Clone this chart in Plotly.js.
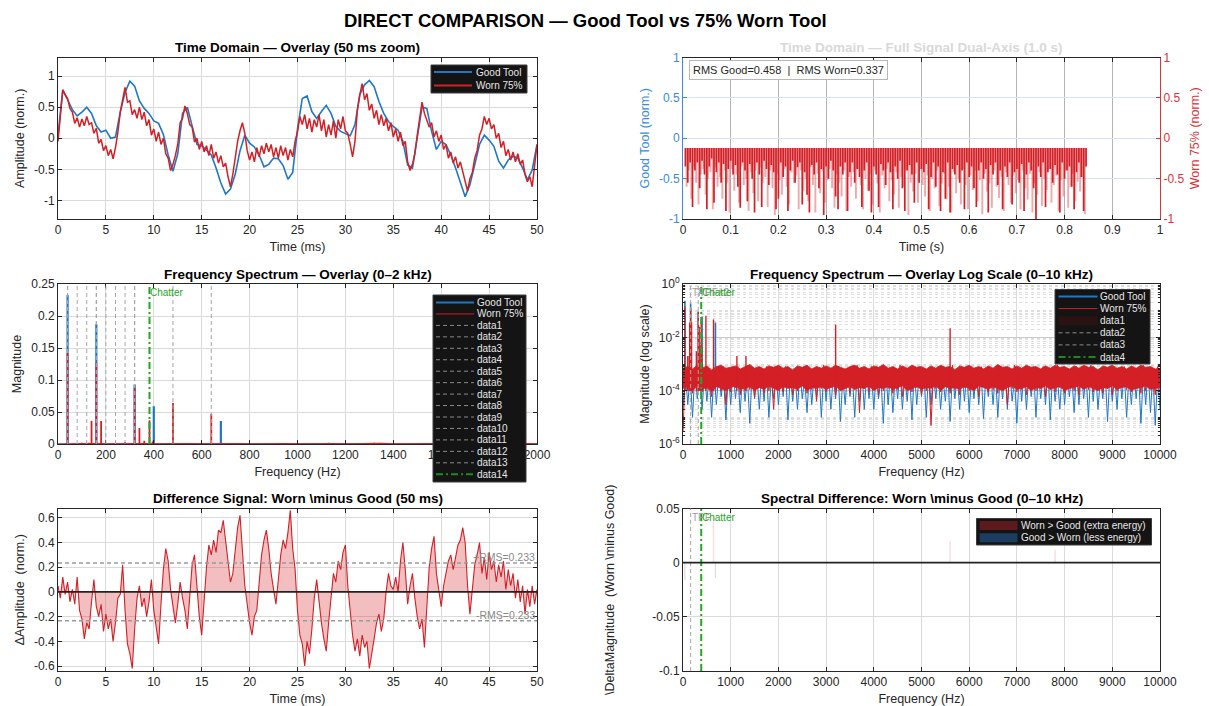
<!DOCTYPE html>
<html><head><meta charset="utf-8">
<script src="https://cdn.plot.ly/plotly-3.0.1.min.js"></script>
<style>html,body{margin:0;padding:0;background:#fff}#chart{width:1209px;height:706px}</style>
</head><body><div id="chart"></div>
<script>
// ---------------- DATA ----------------
// Time domain, 50 ms zoom (Good: every 0.5 ms, Worn: every 0.25 ms)
const timeGood = [
 0.05, 0.78, 0.62, 0.46, 0.36, 0.42, 0.50, 0.40, 0.20, 0.10,
 0.13, 0.00, 0.02, 0.42, 0.74, 0.92, 0.84, 0.60, 0.48, 0.40,
 0.28, 0.24, 0.06, -0.27, -0.53, -0.25, 0.40, 0.50, 0.20, -0.10,
 -0.12, -0.20, -0.27, -0.48, -0.72, -0.90, -0.82, -0.58, -0.20, 0.05,
 -0.08, -0.14, -0.27, -0.46, -0.42, -0.32, -0.33, -0.44, -0.66, -0.55,
 0.15, 0.64, 0.68, 0.43, 0.32, 0.43, 0.53, 0.40, 0.19, 0.11,
 0.08, 0.04, 0.22, 0.70, 0.86, 0.93, 0.83, 0.59, 0.40, 0.27,
 0.19, 0.13, -0.05, -0.43, -0.48, 0.05, 0.50, 0.48, 0.11, -0.18,
 -0.05, -0.10, -0.27, -0.48, -0.72, -0.94, -0.75, -0.43, -0.10, 0.05,
 -0.03, -0.13, -0.37, -0.48, -0.35, -0.29, -0.32, -0.48, -0.67, -0.51,
 -0.10];
const timeWorn = [
 -0.05, 0.35, 0.78, 0.70,   0.64, 0.48, 0.42, 0.24,   0.33, 0.18, 0.31, 0.20,
 0.35, 0.22, 0.25, 0.08,    0.16, -0.08, -0.02, -0.20, -0.12, -0.28, -0.18, -0.33,
 -0.15, 0.10, 0.42, 0.62,   0.82, 0.58, 0.60, 0.38,   0.46, 0.32, 0.50, 0.30,
 0.42, 0.20, 0.30, 0.05,    0.15, -0.05, 0.10, -0.10, 0.00, -0.25, -0.32, -0.52,
 -0.42, -0.28, -0.10, 0.25, 0.32, 0.52, 0.40, 0.22,   0.18, -0.06, 0.00, -0.18,
 -0.05, -0.22, -0.12, -0.28, -0.10, -0.32, -0.22, -0.40, -0.28, -0.46, -0.40, -0.62,
 -0.78, -0.58, -0.30, -0.05, 0.12, 0.25, 0.08, -0.20,  -0.35, -0.22, -0.38, -0.15,
 -0.30, -0.12, -0.25, -0.08, -0.22, -0.10, -0.30, -0.15, -0.32, -0.12, -0.28, -0.15,
 -0.35, -0.18, -0.30, -0.05, 0.10, 0.35, 0.22, 0.38,   0.15, 0.32, 0.10, 0.30,
 0.18, 0.38, 0.12, 0.30,    0.02, 0.22, 0.05, 0.28,   0.00, 0.30, 0.15, 0.35,
 0.12, 0.08, -0.10, -0.30,  -0.05, 0.45, 0.70, 0.88,  0.62, 0.72, 0.45, 0.55,
 0.32, 0.45, 0.22, 0.38,    0.20, 0.32, 0.12, 0.25,   0.02, 0.15, -0.05, 0.10,
 -0.12, -0.05, -0.38, -0.52, -0.42, -0.25, 0.05, 0.35, 0.58, 0.40, 0.30, 0.18,
 0.25, 0.02, 0.12, -0.05,   0.05, -0.18, -0.10, -0.32, -0.22, -0.40, -0.30, -0.48,
 -0.38, -0.55, -0.68, -0.85, -0.65, -0.55, -0.32, -0.20, 0.05, 0.15, 0.35, 0.22,
 0.32, 0.15, 0.22, 0.00,    0.08, -0.15, -0.05, -0.28, -0.18, -0.35, -0.22, -0.38,
 -0.25, -0.42, -0.35, -0.58, -0.70, -0.62, -0.78, -0.40,
 -0.10];
// Difference signal (Worn - Good), every 0.25 ms
const diffSig = [
 0.05, -0.05, 0.12, -0.02,  0.08, -0.08, 0.02, -0.10,  0.12, -0.15, -0.22, -0.38,
 -0.25, -0.30, -0.08, 0.10, -0.12, -0.20, -0.10, -0.32, -0.18, -0.30, -0.22, -0.40,
 -0.25, -0.05, -0.02, 0.22, -0.15, -0.42, -0.50, -0.62, -0.30, -0.05, 0.05, -0.12,
 -0.05, -0.20, -0.08, 0.10, -0.15, -0.30, -0.42, -0.10, 0.18, 0.35, 0.25, 0.02,
 -0.12, -0.25, -0.10, 0.08, -0.05, -0.15, -0.30, -0.05, 0.22, 0.30, 0.05, -0.20,
 -0.35, -0.05, 0.20, 0.38,  0.30, 0.42, 0.32, 0.50,   0.48, 0.58, 0.40, 0.22,
 0.08, 0.15, 0.35, 0.52,    0.62, 0.30, 0.05, -0.10,  -0.25, -0.35, -0.20, -0.15,
 0.10, 0.30, 0.42, 0.50,    0.35, 0.15, 0.02, -0.10,  0.10, 0.30, 0.42, 0.35,
 0.48, 0.66, 0.35, 0.18,    -0.15, -0.35, -0.42, -0.60, -0.40, -0.50, -0.30, -0.05,
 0.10, -0.10, -0.25, -0.38, -0.48, -0.25, -0.02, 0.15, 0.08, 0.25, 0.18, 0.32,
 0.38, 0.05, -0.15, -0.35,  -0.48, -0.38, -0.52, -0.35, -0.45, -0.40, -0.62, -0.48,
 -0.38, -0.25, -0.18, -0.32, -0.22, 0.00, 0.15, 0.05,  0.02, 0.12, 0.00, 0.25,
 0.40, 0.18, -0.10, 0.05,   0.15, -0.05, -0.20, -0.30, -0.22, -0.45, -0.10, 0.20,
 0.35, 0.45, 0.15, 0.02,    -0.12, 0.05, 0.15, 0.25,  0.30, 0.18, 0.28, 0.38,
 0.42, 0.52, 0.40, 0.05,    -0.18, 0.02, 0.22, 0.30,  0.40, 0.15, 0.28, 0.10,
 0.32, 0.18, 0.25, 0.08,    0.22, 0.12, 0.25, 0.02,   0.18, 0.05, 0.15, -0.05,
 0.10, -0.08, 0.05, -0.18,  0.02, -0.12, 0.05, -0.10,
 0.02];
const diffRms = 0.233;

// Full 1.0 s signal (worn): clipped top level and spike tips, every 5 ms
const fullTop = -0.12;
const fullDarkTips = [
 -0.35,-0.55,-0.30,-0.85,-0.40, -0.30,-0.62,-0.28,-0.45,-0.88, -0.35,-0.25,-0.80,-0.42,-0.30,
 -0.55,-0.32,-0.90,-0.38,-0.28, -0.45,-0.33,-0.60,-0.86,-0.30, -0.40,-0.78,-0.32,-0.50,-0.92,
 -0.30,-0.45,-0.85,-0.28,-0.38, -0.58,-0.33,-0.42,-0.88,-0.75, -0.30,-0.48,-0.35,-0.90,-0.40,
 -0.28,-0.55,-0.36,-0.30,-0.82, -0.42,-0.70,-0.92,-0.33,-0.45, -0.30,-0.62,-0.38,-0.95,-0.35,
 -0.50,-0.28,-0.40,-0.72,-0.88, -0.35,-0.45,-0.30,-0.90,-0.42, -0.30,-0.55,-0.38,-0.48,-0.85,
 -0.40,-0.30,-0.65,-0.92,-0.35, -0.45,-0.85,-0.32,-0.40,-0.58, -0.30,-0.42,-0.88,-0.35,-0.50,
 -0.28,-0.62,-0.90,-0.40,-0.33, -0.45,-0.80,-0.30,-0.55,-0.38, -0.42,-0.32,-0.88,-0.48,-0.30,
 -0.60,-0.35,-0.90,-0.42,-0.75, -0.30,-0.92,-0.38,-0.45,-0.33, -0.55,-0.40,-0.88,-0.30,-0.48,
 -0.35,-0.62,-0.85,-0.40,-0.30, -0.50,-0.38,-0.92,-0.33,-0.45, -0.30,-0.58,-0.40,-0.88,-0.35,
 -0.48,-0.30,-0.82,-0.42,-0.38, -0.55,-0.32,-0.90,-0.45,-0.30, -0.40,-0.62,-1.00,-0.35,-0.48,
 -0.30,-0.85,-0.42,-0.38,-0.55, -0.33,-0.45,-0.92,-0.30,-0.50, -0.40,-0.35,-0.60,-0.88,-0.42,
 -0.30,-0.48,-0.90,-0.35];
const fullPaleTips = [
 -0.60,-0.40,-0.75,-0.35,-0.55,-0.82,-0.45,-0.38,-0.70,-0.50,
 -0.42,-0.88,-0.36,-0.60,-0.48,-0.75,-0.40,-0.55,-0.92,-0.38,
 -0.65,-0.45,-0.80,-0.35,-0.58,-0.50,-0.90,-0.42,-0.68,-0.40,
 -0.78,-0.36,-0.55,-0.48,-0.85,-0.40,-0.62,-0.95,-0.45,-0.52,
 -0.70,-0.38,-0.60,-0.82,-0.42,-0.55,-0.46,-0.88,-0.40,-0.65,
 -0.50,-0.78,-0.36,-0.58,-0.92,-0.44,-0.68,-0.40,-0.80,-0.52,
 -0.38,-0.62,-0.86,-0.45,-0.55,-0.72,-0.40,-0.90,-0.48,-0.60,
 -0.42,-0.75,-0.38,-0.58,-0.88,-0.50,-0.65,-0.44,-0.82,-0.40,
 -0.56,-0.92,-0.46,-0.62,-0.38,-0.78,-0.52,-0.70,-0.42,-0.86,
 -0.48,-0.60,-0.40,-0.95,-0.55,-0.66,-0.44,-0.80,-0.38,-0.58,
 -0.72,-0.46,-0.90,-0.50,-0.62,-0.40,-0.84,-0.56,-0.44,-0.76,
 -0.60,-0.92,-0.42,-0.68,-0.50,-0.82,-0.38,-0.58,-0.88,-0.46,
 -0.64,-0.40,-0.78,-0.52,-0.94,-0.44,-0.66,-0.56,-0.86,-0.40,
 -0.60,-0.74,-0.48,-0.90,-0.42,-0.58,-0.80,-0.46,-0.68,-0.52,
 -0.88,-0.40,-0.62,-0.76,-0.44,-0.92,-0.56,-0.70,-0.42,-0.84,
 -0.50,-0.64,-0.38,-0.80,-0.58,-0.46,-0.90,-0.52,-0.72,-0.40,
 -0.86,-0.60,-0.44,-0.78,-0.54,-0.66,-0.48,-0.94];
const rmsGood = 0.458, rmsWorn = 0.337;

// Spectrum: discrete peaks (Hz, magnitude)
const goodPeakF = [40, 160, 320, 400, 680];
const goodPeakM = [0.233, 0.187, 0.093, 0.059, 0.036];
const wornPeakF = [40, 100, 130, 140, 160, 180, 280, 320, 340, 360, 382, 395, 480, 640, 1130, 1320, 3200, 5600];
const wornPeakM = [0.142, 0.002, 0.002, 0.036, 0.127, 0.036, 0.003, 0.088, 0.025, 0.005, 0.037, 0.004, 0.064, 0.047, 0.002, 0.002, 0.030, 0.022];
const specFloor = 1e-4;
// Spectrum noise floor, every 50 Hz from 0 to 10 kHz
const noiseWorn = [
 3e-6,6e-4,1e-4,7e-4,8e-5,5e-4,2e-4,8e-4,9e-5,6e-4,
 1.2e-4,7e-4,6e-5,5e-4,1.5e-4,8e-4,1e-4,6e-4,3e-5,7e-4,
 9e-5,5e-4,1.3e-4,8e-4,7e-5,6e-4,1e-4,9e-4,1.1e-4,5e-4,
 6e-5,7e-4,1.4e-4,6e-4,8e-5,8e-4,1e-4,5e-4,2e-5,7e-4,
 1.2e-4,6e-4,9e-5,8e-4,1.3e-4,5e-4,7e-5,7e-4,1e-4,6e-4,
 1.5e-4,8e-4,8e-5,6e-4,1.1e-4,7e-4,4e-5,5e-4,1.2e-4,9e-4,
 9e-5,6e-4,1.3e-4,7e-4,7e-5,8e-4,1e-4,6e-4,1.4e-4,5e-4,
 8e-5,7e-4,1.1e-4,9e-4,1.5e-5,6e-4,1.2e-4,7e-4,9e-5,8e-4,
 1.3e-4,5e-4,7e-5,6e-4,1e-4,8e-4,1.2e-4,7e-4,8e-5,6e-4,
 1.1e-4,9e-4,6e-5,5e-4,1.4e-4,7e-4,9e-5,6e-4,1.3e-4,8e-4,
 7e-5,6e-4,1e-4,7e-4,5e-6,5e-4,1.2e-4,8e-4,9e-5,6e-4,
 1.4e-4,7e-4,8e-5,9e-4,1.1e-4,6e-4,7e-5,5e-4,1.3e-4,8e-4,
 1e-4,6e-4,1.2e-4,7e-4,6e-5,8e-4,1.4e-4,6e-4,9e-5,7e-4,
 1.1e-4,5e-4,8e-5,8e-4,1.3e-4,7e-4,3e-5,6e-4,1.2e-4,9e-4,
 9e-5,6e-4,1.1e-4,7e-4,7e-5,5e-4,1.4e-4,8e-4,1e-4,6e-4,
 1.2e-4,8e-4,6e-5,7e-4,1.1e-4,6e-4,9e-5,9e-4,1.3e-4,5e-4,
 8e-5,7e-4,1.2e-4,6e-4,1e-4,8e-4,7e-5,7e-4,1.4e-4,6e-4,
 1.1e-4,9e-4,9e-5,5e-4,1.3e-4,7e-4,8e-5,6e-4,1.2e-4,8e-4,
 7e-5,6e-4,1e-4,7e-4,1.4e-4,8e-4,1.1e-4,5e-4,9e-5,7e-4,
 1.2e-4,6e-4,8e-5,9e-4,1e-4,7e-4,1.3e-4,6e-4,7e-5,8e-4,
 1e-4];
const noiseGood = [
 2e-5,5e-4,3e-5,4e-4,1e-5,6e-4,5e-5,3e-4,2e-5,5e-4,
 4e-5,4e-4,1e-5,6e-4,3e-5,5e-4,6e-5,3e-4,8e-6,5e-4,
 3e-5,6e-4,5e-5,4e-4,1.5e-5,5e-4,4e-5,3e-4,6e-6,6e-4,
 5e-5,4e-4,2e-5,5e-4,4e-5,6e-4,1e-5,3e-4,5e-5,5e-4,
 3e-5,4e-4,6e-5,6e-4,8e-6,5e-4,4e-5,4e-4,2e-5,6e-4,
 5e-5,3e-4,1.5e-5,5e-4,3e-5,4e-4,6e-5,6e-4,1e-5,5e-4,
 4e-5,6e-4,2e-5,4e-4,5e-5,5e-4,7e-6,3e-4,3e-5,6e-4,
 6e-5,4e-4,1e-5,5e-4,4e-5,6e-4,2e-5,4e-4,5e-5,5e-4,
 2e-5,5e-4,5e-5,3e-4,6e-6,6e-4,3e-5,5e-4,1.5e-5,4e-4,
 5e-5,6e-4,2e-5,4e-4,4e-5,5e-4,8e-6,6e-4,3e-5,4e-4,
 6e-5,5e-4,1e-5,6e-4,3e-5,4e-4,5e-5,5e-4,2e-5,3e-4,
 4e-5,6e-4,7e-6,5e-4,5e-5,4e-4,2e-5,6e-4,4e-5,5e-4,
 1.5e-5,4e-4,5e-5,6e-4,3e-5,5e-4,9e-6,4e-4,6e-5,6e-4,
 3e-5,5e-4,1e-5,4e-4,5e-5,6e-4,2e-5,5e-4,4e-5,3e-4,
 6e-6,6e-4,4e-5,5e-4,2e-5,4e-4,6e-5,6e-4,1e-5,5e-4,
 5e-5,4e-4,3e-5,6e-4,8e-6,5e-4,4e-5,3e-4,2e-5,6e-4,
 3e-5,5e-4,6e-5,4e-4,1.5e-5,6e-4,3e-5,5e-4,5e-5,4e-4,
 1e-5,6e-4,4e-5,5e-4,2e-5,3e-4,5e-5,6e-4,7e-6,5e-4,
 4e-5,4e-4,2e-5,6e-4,5e-5,5e-4,1e-5,4e-4,3e-5,6e-4,
 5e-5,5e-4,6e-6,4e-4,3e-5,6e-4,1.5e-5,5e-4,5e-6,4e-4,
 2e-5];
// Worn noise band envelope (dense part), every 100 Hz
const wornBandHi = [
 7e-4,8e-4,6.5e-4,9e-4,7e-4,8.5e-4,6e-4,8e-4,9e-4,7e-4,
 7.5e-4,8.5e-4,6.5e-4,8e-4,9.5e-4,7e-4,8e-4,6.5e-4,8.5e-4,7.5e-4,
 9e-4,7e-4,8e-4,6e-4,8.5e-4,7.5e-4,9e-4,6.5e-4,8e-4,7e-4,
 8.5e-4,7e-4,9e-4,7.5e-4,6.5e-4,8e-4,9e-4,7e-4,8e-4,6.5e-4,
 8.5e-4,7.5e-4,9.5e-4,7e-4,8e-4,6.5e-4,8.5e-4,7e-4,9e-4,7.5e-4,
 8e-4,6.5e-4,8.5e-4,7e-4,9e-4,7.5e-4,8e-4,6e-4,8.5e-4,7.5e-4,
 9e-4,7e-4,8e-4,6.5e-4,8.5e-4,7e-4,9.5e-4,7.5e-4,8e-4,6.5e-4,
 8.5e-4,7e-4,9e-4,7.5e-4,8e-4,6.5e-4,8.5e-4,7e-4,9e-4,7.5e-4,
 8e-4,6.5e-4,8.5e-4,7e-4,9e-4,7.5e-4,8e-4,6e-4,8.5e-4,7.5e-4,
 9e-4,7e-4,8e-4,6.5e-4,8.5e-4,7e-4,9e-4,7.5e-4,8e-4,6.5e-4,
 7e-4];
const wornBandLo = [
 1.2e-4,1.4e-4,1e-4,1.5e-4,1.1e-4,1.3e-4,9e-5,1.4e-4,1.2e-4,1e-4,
 1.3e-4,1.5e-4,1.1e-4,1.2e-4,1.4e-4,1e-4,1.3e-4,1.1e-4,1.5e-4,1.2e-4,
 1e-4,1.4e-4,1.2e-4,1.3e-4,1.1e-4,1.5e-4,1e-4,1.3e-4,1.2e-4,1.4e-4,
 1.1e-4,1.3e-4,1.5e-4,1e-4,1.2e-4,1.4e-4,1.1e-4,1.3e-4,1.2e-4,1.5e-4,
 1e-4,1.3e-4,1.2e-4,1.4e-4,1.1e-4,1.3e-4,1.5e-4,1e-4,1.2e-4,1.4e-4,
 1.1e-4,1.3e-4,1.2e-4,1.5e-4,1e-4,1.4e-4,1.2e-4,1.3e-4,1.1e-4,1.4e-4,
 1.2e-4,1e-4,1.5e-4,1.3e-4,1.1e-4,1.4e-4,1.2e-4,1e-4,1.3e-4,1.5e-4,
 1.1e-4,1.2e-4,1.4e-4,1e-4,1.3e-4,1.2e-4,1.5e-4,1.1e-4,1.3e-4,1.4e-4,
 1e-4,1.2e-4,1.3e-4,1.5e-4,1.1e-4,1.4e-4,1.2e-4,1e-4,1.3e-4,1.2e-4,
 1.5e-4,1.1e-4,1.3e-4,1.4e-4,1e-4,1.2e-4,1.3e-4,1.5e-4,1.1e-4,1.2e-4,
 1.3e-4];

// Reference frequency markers
const mlRefFreqs = [40, 80, 120, 160, 200, 240, 280, 320, 160, 320, 480, 640, 40];
const mlRefNames = ['data1','data2','data3','data4','data5','data6','data7','data8','data9','data10','data11','data12','data13'];
const mrRefFreqs = [160, 320];
const mrRefLabels = ['TPF', 'TPF×2'];
const brRefFreqs = [160];
const brRefLabels = ['TPF'];
const chatterFreq = 382;

// Spectral difference (Worn - Good): the few visible bins
const sdPosF = [640, 5600, 7800], sdPosV = [0.045, 0.020, 0.012];
const sdNegF = [40, 680], sdNegV = [-0.016, -0.014];

// Tick labels
const msTicks = [0,5,10,15,20,25,30,35,40,45,50];
const msLabels = ['0','5','10','15','20','25','30','35','40','45','50'];
const ampTicks = [-1,-0.5,0,0.5,1];
const ampLabels = ['-1','-0.5','0','0.5','1'];
const sTicks = [0,0.1,0.2,0.3,0.4,0.5,0.6,0.7,0.8,0.9,1];
const sLabels = ['0','0.1','0.2','0.3','0.4','0.5','0.6','0.7','0.8','0.9','1'];
const hz2kTicks = [0,200,400,600,800,1000,1200,1400,1600,1800,2000];
const hz2kLabels = ['0','200','400','600','800','1000','1200','1400','1600','1800','2000'];
const magTicks = [0,0.05,0.1,0.15,0.2,0.25];
const magLabels = ['0','0.05','0.1','0.15','0.2','0.25'];
const hz10kTicks = [0,1000,2000,3000,4000,5000,6000,7000,8000,9000,10000];
const hz10kLabels = ['0','1000','2000','3000','4000','5000','6000','7000','8000','9000','10000'];
const logTicks = [1e-6,1e-4,1e-2,1];
const logLabels = ['10<sup>-6</sup>','10<sup>-4</sup>','10<sup>-2</sup>','10<sup>0</sup>'];
const diffTicks = [-0.6,-0.4,-0.2,0,0.2,0.4,0.6];
const diffLabels = ['-0.6','-0.4','-0.2','0','0.2','0.4','0.6'];
const sdTicks = [-0.1,-0.05,0,0.05];
const sdLabels = ['-0.1','-0.05','0','0.05'];

// ---------------- STYLE / LAYOUT ----------------
const W = 1209, H = 706;
const FONT = 'Liberation Sans, Arial, Helvetica, sans-serif';
const BLUE = '#1f77c6', RED = '#d31f25', GREEN = '#22a722', GREY = '#a6a6a6', AX = '#262626', GRID = '#dadada';
const BLUEAX = '#3a8bd8', REDAX = '#d9343a';
const PX = v => v / W, PY = v => 1 - v / H;
const colL = [PX(58), PX(537)], colR = [PX(683), PX(1160)];
const rowT = [PY(219), PY(57.5)], rowM = [PY(444), PY(284)], rowB = [PY(671), PY(508.5)];

function stems(freqs, mags, floor) {
  const x = [], y = [];
  freqs.forEach((f, i) => { x.push(f, f, null); y.push(floor, mags[i], null); });
  return {x, y};
}
const gS = stems(goodPeakF, goodPeakM, specFloor);
const wS = stems(wornPeakF, wornPeakM, specFloor);
const sdP = stems(sdPosF, sdPosV, 0);
const sdN = stems(sdNegF, sdNegV, 0);

const traces = [
  // Top-left
  {x0:0, dx:0.5, y:timeGood, xaxis:'x', yaxis:'y', mode:'lines', line:{color:BLUE, width:1.6}},
  {x0:0, dx:0.25, y:timeWorn, xaxis:'x', yaxis:'y', mode:'lines', line:{color:RED, width:1.5}},
  // Top-right
  {x:[], y:[], xaxis:'x2', yaxis:'y2', mode:'lines'},
  {type:'bar', x0:0.0075, dx:0.005, y:fullPaleTips.map(v => v - fullTop), base:fullTop, width:0.004,
   xaxis:'x2', yaxis:'y3', marker:{color:'rgba(226,85,90,0.5)', line:{width:0}}},
  {type:'bar', x0:0.005, dx:0.005, y:fullDarkTips.map(v => v - fullTop), base:fullTop, width:0.0036,
   xaxis:'x2', yaxis:'y3', marker:{color:RED, line:{width:0}}},
  // Middle-left
  {x0:0, dx:50, y:noiseGood, xaxis:'x4', yaxis:'y4', mode:'lines', line:{color:BLUE, width:1}},
  {x:gS.x, y:gS.y, xaxis:'x4', yaxis:'y4', mode:'lines', line:{color:BLUE, width:2.2}},
  {x0:0, dx:50, y:noiseWorn, xaxis:'x4', yaxis:'y4', mode:'lines', line:{color:RED, width:1.2}},
  {x:wS.x, y:wS.y, xaxis:'x4', yaxis:'y4', mode:'lines', line:{color:RED, width:1.8}},
  // Middle-right
  {x0:0, dx:50, y:noiseGood, xaxis:'x5', yaxis:'y5', mode:'lines', line:{color:BLUE, width:1}},
  {x:gS.x, y:gS.y, xaxis:'x5', yaxis:'y5', mode:'lines', line:{color:BLUE, width:1.6}},
  {x0:0, dx:100, y:wornBandLo, xaxis:'x5', yaxis:'y5', mode:'lines', line:{color:RED, width:0.5}},
  {x0:0, dx:100, y:wornBandHi, xaxis:'x5', yaxis:'y5', mode:'lines', fill:'tonexty', fillcolor:RED, line:{color:RED, width:0.8}},
  {x0:0, dx:50, y:noiseWorn, xaxis:'x5', yaxis:'y5', mode:'lines', line:{color:RED, width:1}},
  {x:wS.x, y:wS.y, xaxis:'x5', yaxis:'y5', mode:'lines', line:{color:RED, width:1.4}},
  // Bottom-left
  {x0:0, dx:0.25, y:diffSig, xaxis:'x6', yaxis:'y6', mode:'lines', fill:'tozeroy',
   fillcolor:'rgba(214,40,45,0.3)', line:{color:RED, width:1.1}},
  // Bottom-right
  {x:sdP.x, y:sdP.y, xaxis:'x7', yaxis:'y7', mode:'lines', line:{color:'rgba(214,40,45,0.15)', width:1.5}},
  {x:sdN.x, y:sdN.y, xaxis:'x7', yaxis:'y7', mode:'lines', line:{color:'rgba(120,120,120,0.25)', width:1.2}}
];

const base = o => Object.assign({
  showline:true, linecolor:AX, linewidth:1, mirror:'ticks', ticks:'inside', ticklen:4, tickwidth:1, tickcolor:AX,
  showgrid:true, gridcolor:GRID, gridwidth:1, zeroline:false, tickmode:'array', fixedrange:true, automargin:false,
  tickfont:{family:FONT, size:12, color:AX}
}, o);
const ttl = (text, standoff, color) => ({text, standoff, font:{family:FONT, size:12.5, color:color || AX}});

const minorLog = [];
for (let e = -6; e < 0; e++) for (let m = 2; m <= 10; m++) if (!(m === 10 && e % 2 === 1)) minorLog.push(m * Math.pow(10, e));

const shapes = [], annotations = [];
function vline(xref, yref, f, color, width, dash) {
  shapes.push({type:'line', xref, yref:yref + ' domain', x0:f, x1:f, y0:0, y1:1, line:{color, width, dash}});
}
function hline(xref, yref, v, color, width, dash) {
  shapes.push({type:'line', xref:xref + ' domain', yref, x0:0, x1:1, y0:v, y1:v, line:{color, width, dash}});
}
const DASH = '4px,3px', DASHDOT = '7px,3px,2px,3px';
mlRefFreqs.forEach(f => vline('x4', 'y4', f, GREY, 1, DASH));
vline('x4', 'y4', chatterFreq, GREEN, 2, DASHDOT);
mrRefFreqs.forEach(f => vline('x5', 'y5', f, GREY, 1, DASH));
vline('x5', 'y5', chatterFreq, GREEN, 2, DASHDOT);
brRefFreqs.forEach(f => vline('x7', 'y7', f, GREY, 1, DASH));
vline('x7', 'y7', chatterFreq, GREEN, 2, DASHDOT);
hline('x6', 'y6', diffRms, '#9a9a9a', 1.5, DASH);
hline('x6', 'y6', -diffRms, '#9a9a9a', 1.5, DASH);
hline('x6', 'y6', 0, '#222', 1.6, 'solid');
hline('x7', 'y7', 0, '#222', 1.6, 'solid');

// Marker labels
function mlabel(xref, yref, f, text, color) {
  annotations.push({xref, yref:yref + ' domain', x:f, y:1, xanchor:'left', yanchor:'top', yshift:-1, xshift:-1,
    text, showarrow:false, font:{family:FONT, size:10, color}});
}
mlabel('x4', 'y4', chatterFreq, 'Chatter', GREEN);
mrRefFreqs.forEach((f, i) => mlabel('x5', 'y5', f, mrRefLabels[i], '#a0a0a0'));
mlabel('x5', 'y5', chatterFreq, 'Chatter', GREEN);
brRefFreqs.forEach((f, i) => mlabel('x7', 'y7', f, brRefLabels[i], '#a0a0a0'));
mlabel('x7', 'y7', chatterFreq, 'Chatter', GREEN);

// RMS labels (difference plot)
[['+RMS=', diffRms], ['-RMS=', -diffRms]].forEach(([p, v]) => annotations.push({
  xref:'x6', yref:'y6', x:50, y:v, xanchor:'right', yanchor:'middle', yshift:6, showarrow:false,
  text:p + Math.abs(v).toFixed(3), font:{family:FONT, size:10.5, color:'#8a8a8a'}}));

// RMS box (top-right)
annotations.push({xref:'x2 domain', yref:'y2 domain', x:0.012, y:0.985, xanchor:'left', yanchor:'top', showarrow:false,
  text:'RMS Good=' + rmsGood.toFixed(3) + '\u00a0\u00a0|\u00a0\u00a0RMS Worn=' + rmsWorn.toFixed(3),
  bgcolor:'#ffffff', bordercolor:'#b8b8b8', borderwidth:1, borderpad:3, font:{family:FONT, size:11, color:AX}});

// Titles
function title(text, x, y, size, color) {
  annotations.push({xref:'paper', yref:'paper', x:PX(x), y:PY(y), xanchor:'center', yanchor:'middle', showarrow:false,
    text:'<b>' + text + '</b>', font:{family:FONT, size, color:color || '#000'}});
}
title('DIRECT COMPARISON — Good Tool vs 75% Worn Tool', 585, 20, 18.5);
title('Time Domain — Overlay (50 ms zoom)', 297.5, 48, 13.5);
title('Time Domain — Full Signal Dual-Axis (1.0 s)', 921.5, 48, 13.5, '#d9d9d9');
title('Frequency Spectrum — Overlay (0–2 kHz)', 297.5, 275, 13.5);
title('Frequency Spectrum — Overlay Log Scale (0–10 kHz)', 921.5, 275, 13.5);
title('Difference Signal: Worn \\minus Good (50 ms)', 297.5, 498.5, 13.5);
title('Spectral Difference: Worn \\minus Good (0–10 kHz)', 921.5, 498.5, 13.5);

// Legends (drawn as boxes with line / patch samples)
function legend(L) {
  shapes.push({type:'rect', xref:'paper', yref:'paper', x0:PX(L.box[0]), x1:PX(L.box[1]), y0:PY(L.box[3]), y1:PY(L.box[2]),
    fillcolor:'#141414', line:{color:'#3c3c3c', width:1}, layer:'above'});
  L.items.forEach((it, i) => {
    const yc = L.start + i * L.step;
    if (it.patch) {
      shapes.push({type:'rect', xref:'paper', yref:'paper', x0:PX(L.sx[0]), x1:PX(L.sx[1]), y0:PY(yc + 4.5), y1:PY(yc - 4.5),
        fillcolor:it.color, line:{width:0}, layer:'above'});
    } else {
      shapes.push({type:'line', xref:'paper', yref:'paper', x0:PX(L.sx[0]), x1:PX(L.sx[1]), y0:PY(yc), y1:PY(yc),
        line:{color:it.color, width:it.width, dash:it.dash || 'solid'}, layer:'above'});
    }
    annotations.push({xref:'paper', yref:'paper', x:PX(L.tx), y:PY(yc), xanchor:'left', yanchor:'middle', showarrow:false,
      borderpad:0, text:it.name, font:{family:FONT, size:10, color:'#e6e6e6'}});
  });
}
legend({box:[431, 527, 65, 93], start:72, step:13.5, sx:[434, 472], tx:474.5,
  items:[{name:'Good Tool', color:BLUE, width:2}, {name:'Worn 75%', color:RED, width:2}]});
legend({box:[433, 526, 295, 482], start:302.5, step:11.45, sx:[436, 474], tx:475.5,
  items:[{name:'Good Tool', color:BLUE, width:2}, {name:'Worn 75%', color:RED, width:1}]
    .concat(mlRefNames.map(n => ({name:n, color:'#8a8a8a', width:1, dash:DASH})))
    .concat([{name:'data14', color:'#1d8a1d', width:2, dash:DASHDOT}])});
legend({box:[1055, 1150, 289.5, 364], start:296.5, step:12.1, sx:[1058.5, 1097.5], tx:1099,
  items:[{name:'Good Tool', color:BLUE, width:2}, {name:'Worn 75%', color:RED, width:1},
    {name:'data1', color:'#2b1314', patch:true}, {name:'data2', color:'#8a8a8a', width:1, dash:DASH},
    {name:'data3', color:'#8a8a8a', width:1, dash:DASH}, {name:'data4', color:'#1d8a1d', width:2, dash:DASHDOT}]});
legend({box:[976.5, 1151.5, 518.5, 545], start:525.4, step:12.4, sx:[979.6, 1017.5], tx:1020,
  items:[{name:'Worn &gt; Good (extra energy)', color:'#5c1a1c', patch:true},
    {name:'Good &gt; Worn (less energy)', color:'#1c3d5f', patch:true}]});

const layout = {
  width:W, height:H, margin:{l:0, r:0, t:0, b:0}, paper_bgcolor:'#fff', plot_bgcolor:'#fff',
  showlegend:false, barmode:'overlay', font:{family:FONT, color:AX},
  xaxis: base({domain:colL, anchor:'y', range:[0,50], tickvals:msTicks, ticktext:msLabels, title:ttl('Time (ms)', 5)}),
  yaxis: base({domain:rowT, anchor:'x', range:[-1.3,1.3], tickvals:ampTicks, ticktext:ampLabels, title:ttl('Amplitude (norm.)', 6)}),
  xaxis2: base({domain:colR, anchor:'y2', range:[0,1], tickvals:sTicks, ticktext:sLabels, gridcolor:'#b4b4b4', title:ttl('Time (s)', 5)}),
  yaxis2: base({domain:rowT, anchor:'x2', range:[-1,1], tickvals:ampTicks, ticktext:ampLabels, mirror:false,
    linecolor:BLUEAX, tickcolor:BLUEAX, gridcolor:'#d5e5f5', tickfont:{family:FONT, size:12, color:BLUEAX},
    title:ttl('Good Tool (norm.)', 6, BLUEAX)}),
  yaxis3: base({overlaying:'y2', side:'right', anchor:'x2', range:[-1,1], tickvals:ampTicks, ticktext:ampLabels, mirror:false,
    showgrid:false, linecolor:REDAX, tickcolor:REDAX, tickfont:{family:FONT, size:12, color:REDAX},
    title:ttl('Worn 75% (norm.)', 6, REDAX)}),
  xaxis4: base({domain:colL, anchor:'y4', range:[0,2000], tickvals:hz2kTicks, ticktext:hz2kLabels, title:ttl('Frequency (Hz)', 5)}),
  yaxis4: base({domain:rowM, anchor:'x4', range:[0,0.25], tickvals:magTicks, ticktext:magLabels, title:ttl('Magnitude', 6)}),
  xaxis5: base({domain:colR, anchor:'y5', range:[0,10000], tickvals:hz10kTicks, ticktext:hz10kLabels, title:ttl('Frequency (Hz)', 5)}),
  yaxis5: base({domain:rowM, anchor:'x5', type:'log', range:[-6,0], tickvals:logTicks, ticktext:logLabels,
    gridcolor:'#c8c8c8', title:ttl('Magnitude (log scale)', 6),
    minor:{tickmode:'array', tickvals:minorLog, ticks:'inside', ticklen:2, tickcolor:AX, showgrid:true, gridcolor:'#dedede', griddash:'dot'}}),
  xaxis6: base({domain:colL, anchor:'y6', range:[0,50], tickvals:msTicks, ticktext:msLabels, title:ttl('Time (ms)', 5)}),
  yaxis6: base({domain:rowB, anchor:'x6', range:[-0.64,0.675], tickvals:diffTicks, ticktext:diffLabels, title:ttl('ΔAmplitude\u00a0 (norm.)', 6)}),
  xaxis7: base({domain:colR, anchor:'y7', range:[0,10000], tickvals:hz10kTicks, ticktext:hz10kLabels, title:ttl('Frequency (Hz)', 5)}),
  yaxis7: base({domain:rowB, anchor:'x7', range:[-0.1,0.05], tickvals:sdTicks, ticktext:sdLabels, title:ttl('\\DeltaMagnitude\u00a0 (Worn \\minus Good)', 34)}),
  shapes, annotations
};

Plotly.newPlot('chart', traces, layout, {displayModeBar:false, staticPlot:true});
</script></body></html>
